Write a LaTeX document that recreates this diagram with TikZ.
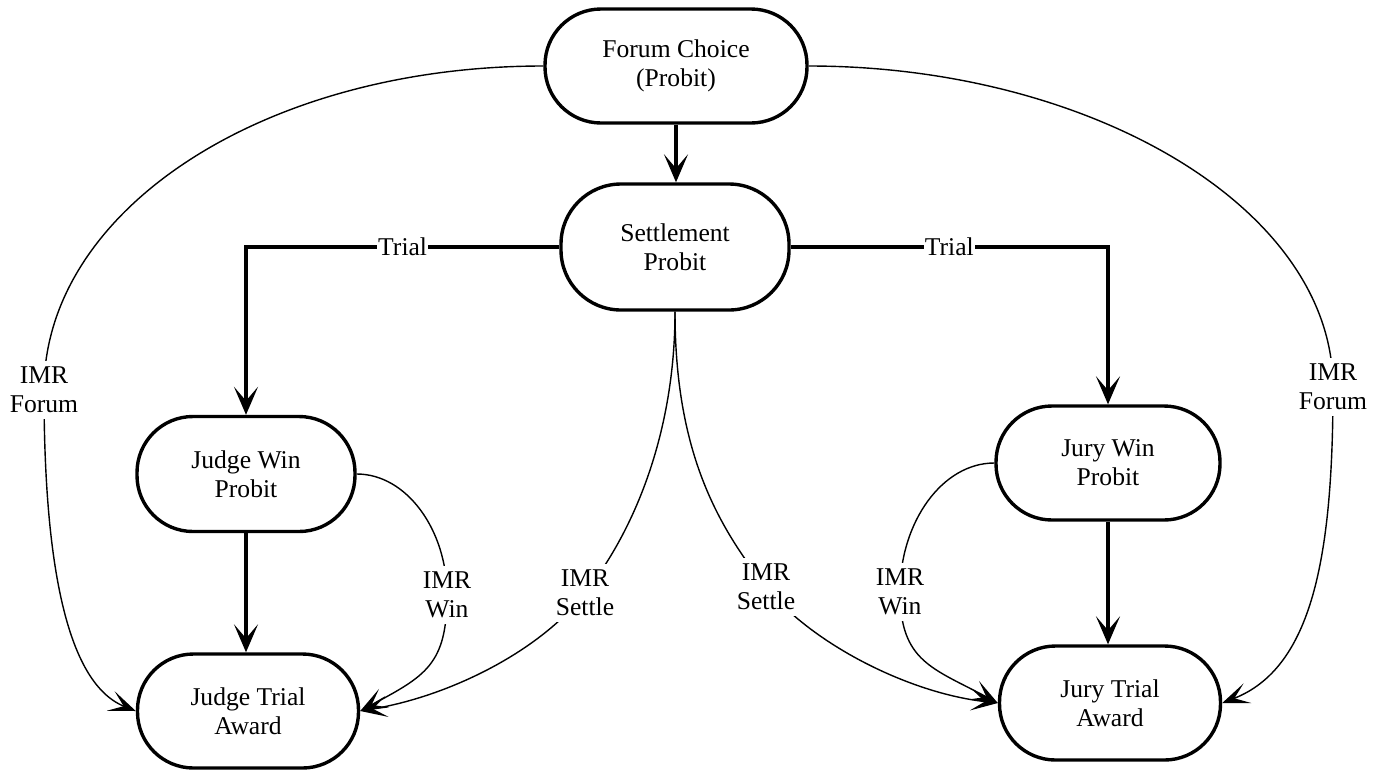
\documentclass[tikz,border=0pt]{standalone}
\usepackage{fontspec}
\setmainfont{Liberation Serif}
\usetikzlibrary{arrows.meta}
\begin{document}
\begin{tikzpicture}[x=0.5pt,y=0.5pt,
  txt/.style={font=\fontsize{12.8}{14.5}\selectfont, align=center},
  box/.style={txt, draw, line width=1.7pt, rounded corners=28pt, inner sep=2pt},
  thickarrow/.style={line width=1.6pt, -{Stealth[length=14pt,width=12pt,inset=7pt]}},
  thinarrow/.style={line width=0.7pt, -{Stealth[length=13.5pt,width=10.5pt,inset=7pt]}},
  trial/.style={txt, fill=white, inner xsep=0.5pt, inner ysep=1pt},
  lbl/.style={txt, fill=white, inner sep=3pt}]
\useasboundingbox (0,0) rectangle (1390,-772);

% nodes
\node[box, minimum width=131pt, minimum height=57pt] (fc) at (676,-66) {Forum Choice\\(Probit)};
\node[box, minimum width=114pt, minimum height=63pt, rounded corners=30pt] (st) at (675,-247) {Settlement\\Probit};
\node[box, minimum width=109pt, minimum height=57.5pt] (jw) at (246,-474) {Judge Win\\Probit};
\node[box, minimum width=110.5pt, minimum height=57pt] (jt) at (248,-711) {Judge Trial\\Award};
\node[box, minimum width=112pt, minimum height=57pt] (yw) at (1108,-463) {Jury Win\\Probit};
\node[box, minimum width=110.5pt, minimum height=57pt] (yt) at (1110,-703) {Jury Trial\\Award};

% label positions
\coordinate (cLF) at (44,-390);
\coordinate (cRF) at (1333,-387);
\coordinate (cLW) at (447,-595);
\coordinate (cRW) at (900,-592);
\coordinate (cLS) at (585,-593);
\coordinate (cRS) at (766,-587);

% thick connectors
\draw[thickarrow] (fc.south) -- (fc.south |- st.north);
\draw[thickarrow] (st.west) -| node[trial, pos=0.25] (tl) {Trial} (jw.north);
\draw[thickarrow] (st.east) -| node[trial, pos=0.25] (tr) {Trial} (yw.north);
\draw[thickarrow] (jw.south) -- (jw.south |- jt.north);
\draw[thickarrow] (yw.south) -- (yw.south |- yt.north);

% thin curved connectors
\draw[thinarrow] (fc.west) .. controls +(-280,0) and +(0,180) .. (cLF)
   .. controls +(0,-150) and +(-75,30) .. (jt.west);
\draw[thinarrow] (fc.east) .. controls +(280,0) and +(0,180) .. (cRF)
   .. controls +(0,-170) and +(90,35) .. (yt.east);
\draw[thinarrow] (jw.east) .. controls +(50,0) and +(0,65) .. (cLW)
   .. controls +(0,-70) and +(65,35) .. (jt.east);
\draw[thinarrow] (yw.west) .. controls +(-52,0) and +(0,70) .. (cRW)
   .. controls +(0,-70) and +(-65,35) .. (yt.west);
\draw[thinarrow] (st.south) .. controls +(0,-120) and +(50,63) .. (cLS)
   .. controls +(-45,-58) and +(90,15) .. (jt.east);
\draw[thinarrow] (st.south) .. controls +(0,-138) and +(-50,63) .. (cRS)
   .. controls +(45,-56) and +(-90,10) .. (yt.west);

% labels
\node[lbl] (lLF) at (cLF) {IMR\\Forum};
\node[lbl] (lRF) at (cRF) {IMR\\Forum};
\node[lbl] (lLW) at (cLW) {IMR\\Win};
\node[lbl] (lRW) at (cRW) {IMR\\Win};
\node[lbl] (lLS) at (cLS) {IMR\\Settle};
\node[lbl] (lRS) at (cRS) {IMR\\Settle};
\end{tikzpicture}
\end{document}
